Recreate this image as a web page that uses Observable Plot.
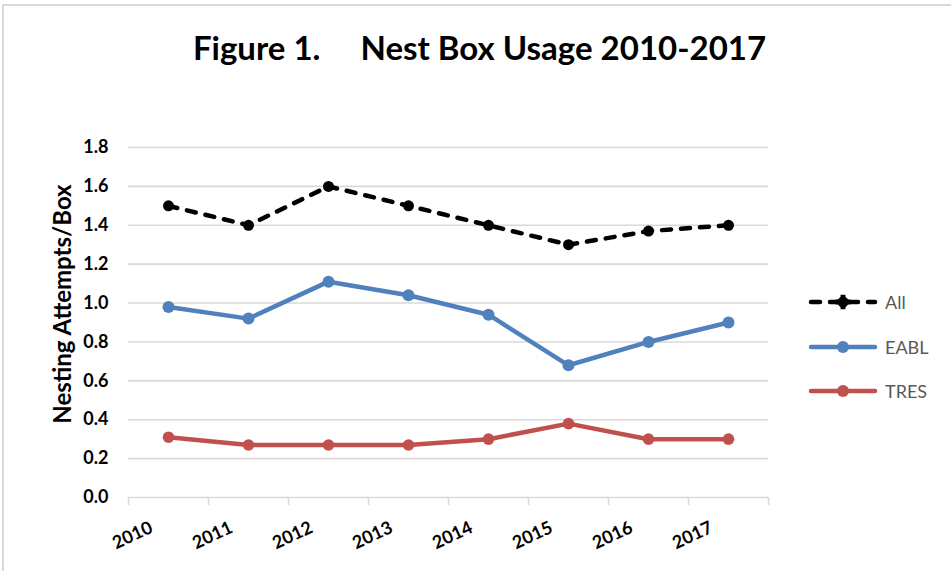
<!DOCTYPE html>
<html>
<head>
<meta charset="utf-8">
<script src="https://cdn.jsdelivr.net/npm/d3@7"></script>
<script src="https://cdn.jsdelivr.net/npm/@observablehq/plot@0.6"></script>
<style>
  html, body { margin: 0; padding: 0; background: #fff; }
  #wrap { position: relative; width: 951px; height: 571px; overflow: hidden; font-family: Lato, "Open Sans", sans-serif; }
  #frame { position: absolute; left: 2px; top: 4px; width: 960px; height: 580px; border-top: 2px solid #d9d9d9; border-left: 2px solid #d9d9d9; }
  #title { position: absolute; left: 0; top: 27px; width: 951px; text-align: center; font-size: 33px; font-weight: bold; color: #000; padding-left: 8px; box-sizing: border-box; white-space: pre; }
  #chart { position: absolute; left: 0; top: 100px; }
  #ylabel { position: absolute; left: 61px; top: 304px; transform: translate(-50%, -50%) rotate(-90deg); font-size: 24px; font-weight: bold; white-space: nowrap; color: #000; }
  #legend { position: absolute; left: 808px; top: 280px; }
  .item { display: flex; align-items: center; height: 44.5px; font-size: 18px; color: #595959; }
  .item svg { margin-right: 7px; }
</style>
</head>
<body>
<div id="wrap">
  <div id="frame"></div>
  <div id="title">Figure 1.     Nest Box Usage 2010-2017</div>
  <div id="chart"></div>
  <div id="ylabel">Nesting Attempts/Box</div>
  <div id="legend"></div>
</div>
<script>
const years = [2010, 2011, 2012, 2013, 2014, 2015, 2016, 2017];
const allValues  = [1.50, 1.40, 1.60, 1.50, 1.40, 1.30, 1.37, 1.40];
const eablValues = [0.98, 0.92, 1.11, 1.04, 0.94, 0.68, 0.80, 0.90];
const tresValues = [0.31, 0.27, 0.27, 0.27, 0.30, 0.38, 0.30, 0.30];
const yTicks = [0, 0.2, 0.4, 0.6, 0.8, 1.0, 1.2, 1.4, 1.6, 1.8];
const seriesNames = ["All", "EABL", "TRES"];
const seriesColors = {All: "#000000", EABL: "#4F81BD", TRES: "#C0504D"};

const rows = (name, vals) => years.map((y, i) => ({series: name, year: y, value: vals[i]}));
const allRows = rows("All", allValues);
const eablRows = rows("EABL", eablValues);
const tresRows = rows("TRES", tresValues);
const boundaries = d3.range(years[0] - 0.5, years[years.length - 1] + 1, 1);

const chart = Plot.plot({
  width: 951,
  height: 471,
  marginLeft: 128,
  marginRight: 183,
  marginTop: 47,
  marginBottom: 74,
  style: {fontFamily: "Lato, 'Open Sans', sans-serif", background: "transparent"},
  x: {type: "linear", domain: [years[0] - 0.5, years[years.length - 1] + 0.5]},
  y: {domain: [0, 1.8]},
  marks: [
    Plot.ruleY(yTicks.filter(d => d > 0), {stroke: "#d9d9d9", strokeWidth: 1.6}),
    Plot.ruleY([0], {stroke: "#d9d9d9", strokeWidth: 1.6}),
    Plot.axisX(boundaries, {tickSize: 8, tickFormat: () => "", stroke: "#d9d9d9", strokeWidth: 1.6, label: null}),
    Plot.axisY(yTicks, {tickSize: 0, tickPadding: 20, tickFormat: d3.format(".1f"), fontSize: 18, fontWeight: "bold", fill: "#000", label: null}),
    Plot.axisX(years, {tickSize: 0, tickPadding: 29, tickRotate: -25, tickFormat: d => String(d), fontSize: 18, fontWeight: "bold", fill: "#000", label: null, dx: -17}),
    Plot.line(tresRows, {x: "year", y: "value", stroke: seriesColors.TRES, strokeWidth: 4.5}),
    Plot.dot(tresRows, {x: "year", y: "value", r: 5.8, fill: seriesColors.TRES}),
    Plot.line(eablRows, {x: "year", y: "value", stroke: seriesColors.EABL, strokeWidth: 4.5}),
    Plot.dot(eablRows, {x: "year", y: "value", r: 6, fill: seriesColors.EABL}),
    Plot.line(allRows, {x: "year", y: "value", stroke: seriesColors.All, strokeWidth: 4.5, strokeDasharray: "9,10", strokeLinecap: "round"}),
    Plot.dot(allRows, {x: "year", y: "value", r: 5.5, fill: seriesColors.All}),
    Plot.dot(allRows, {x: "year", y: "value", r: 7, symbol: "plus", fill: seriesColors.All})
  ]
});
document.getElementById("chart").appendChild(chart);

// legend
const legend = d3.select("#legend");
for (const name of seriesNames) {
  const item = legend.append("div").attr("class", "item");
  const s = item.append("svg").attr("width", 70).attr("height", 20);
  const c = seriesColors[name];
  const ln = s.append("line").attr("x1", 3).attr("x2", 67).attr("y1", 10).attr("y2", 10)
    .attr("stroke", c).attr("stroke-width", 4.5).attr("stroke-linecap", "round");
  if (name === "All") ln.attr("stroke-dasharray", "9,10");
  s.append("circle").attr("cx", 35).attr("cy", 10).attr("r", name === "All" ? 5.5 : 6).attr("fill", c);
  if (name === "All") {
    s.append("path").attr("d", d3.symbol(d3.symbolCross, 120)()).attr("transform", "translate(35,10)").attr("fill", c);
  }
  item.append("span").text(name);
}
</script>
</body>
</html>
